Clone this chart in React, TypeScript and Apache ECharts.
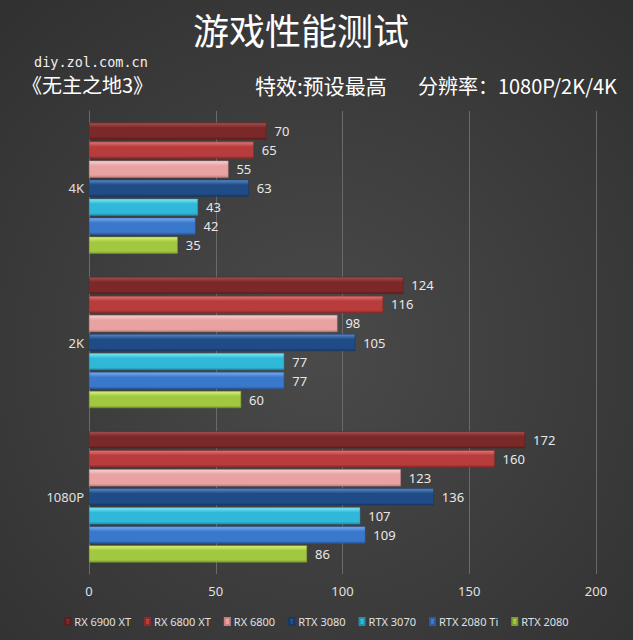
import React, { useEffect, useRef } from "react";
import * as echarts from "echarts";

const categories = ["4K", "2K", "1080P"];
const seriesNames = ["RX 6900 XT", "RX 6800 XT", "RX 6800", "RTX 3080", "RTX 3070", "RTX 2080 Ti", "RTX 2080"];
const rx6900xt = [70, 124, 172];
const rx6800xt = [65, 116, 160];
const rx6800 = [55, 98, 123];
const rtx3080 = [63, 105, 136];
const rtx3070 = [43, 77, 107];
const rtx2080ti = [42, 77, 109];
const rtx2080 = [35, 60, 86];
const xTicks = [0, 50, 100, 150, 200];

const seriesData = [rx6900xt, rx6800xt, rx6800, rtx3080, rtx3070, rtx2080ti, rtx2080];
const palette = [
  ["#a85050", "#7a2828", "#5e1c1c"],
  ["#e27676", "#b83c3c", "#8e2a2a"],
  ["#fbd0d0", "#e8a2a2", "#c88080"],
  ["#5a8ac8", "#1f4c86", "#163866"],
  ["#80e8fa", "#30b8d8", "#2090b0"],
  ["#78aef0", "#3a78cc", "#2a5ca4"],
  ["#d8f478", "#a2c842", "#7e9e2c"],
];

export default function App() {
  const ref = useRef<HTMLDivElement>(null);
  useEffect(() => {
    const chart = echarts.init(ref.current!, undefined, { renderer: "svg" });
    const cjk = "'Noto Sans CJK SC', sans-serif";
    chart.setOption({
      animation: false,
      backgroundColor: {
        type: "radial",
        x: 0.5,
        y: 0.55,
        r: 0.75,
        colorStops: [
          { offset: 0, color: "#4a4a4a" },
          { offset: 1, color: "#303030" },
        ],
      },
      graphic: [
        { type: "text", left: 193, top: 9, style: { text: "游戏性能测试", fill: "#ffffff", font: `normal 36px ${cjk}`, lineHeight: 40 } },
        { type: "text", left: 34, top: 55, style: { text: "diy.zol.com.cn", fill: "#f0f0f0", font: `13.5px 'DejaVu Sans Mono', monospace` } },
        { type: "text", left: 22, top: 74, style: { text: "《无主之地3》", fill: "#ffffff", font: `20px ${cjk}` } },
        { type: "text", left: 255, top: 74, style: { text: "特效:预设最高", fill: "#ffffff", font: `21px ${cjk}` } },
        { type: "text", right: 16, top: 75, style: { text: "分辨率：1080P/2K/4K", fill: "#ffffff", font: `20px ${cjk}` } },
      ],
      legend: {
        bottom: 8,
        left: "center",
        data: seriesNames,
        itemWidth: 5,
        itemHeight: 7,
        itemGap: 13,
        icon: "rect",
        textStyle: { color: "#e0e0e0", fontSize: 11, fontFamily: "'Noto Sans', sans-serif", padding: [0, 0, 0, -1] },
      },
      grid: { left: 89, right: 37, top: 111, bottom: 66, containLabel: false },
      xAxis: {
        type: "value",
        min: 0,
        max: 200,
        interval: 50,
        axisLine: { show: false },
        axisTick: { show: false },
        splitLine: { show: true, lineStyle: { color: "#6a6a6a", width: 1 } },
        axisLabel: {
          color: "#e0e0e0",
          fontSize: 13,
          margin: 10,
          fontFamily: "'Noto Sans', sans-serif",
          formatter: (v: number) => (xTicks.includes(v) ? String(v) : ""),
        },
      },
      yAxis: {
        type: "category",
        data: categories,
        inverse: true,
        axisLine: { show: true, lineStyle: { color: "#6a6a6a" } },
        axisTick: { show: false },
        axisLabel: { color: "#e0e0e0", fontSize: 13, margin: 5, fontFamily: "'Noto Sans', sans-serif" },
      },
      series: seriesNames.map((name, i) => ({
        name,
        type: "bar",
        data: seriesData[i],
        barGap: "12%",
        barCategoryGap: "15%",
        itemStyle: {
          color: {
            type: "linear",
            x: 0,
            y: 0,
            x2: 0,
            y2: 1,
            colorStops: [
              { offset: 0, color: palette[i][0] },
              { offset: 0.3, color: palette[i][1] },
              { offset: 0.85, color: palette[i][1] },
              { offset: 1, color: palette[i][2] },
            ],
          },
          borderColor: palette[i][2],
          borderWidth: 0.5,
        },
        label: {
          show: true,
          position: "right",
          distance: 8,
          color: "#e8e8e8",
          fontSize: 13,
          fontFamily: "'Noto Sans', sans-serif",
        },
      })),
    });
    return () => chart.dispose();
  }, []);
  return <div ref={ref} style={{ position: "absolute", left: 0, top: 0, width: 633, height: 640 }} />;
}
